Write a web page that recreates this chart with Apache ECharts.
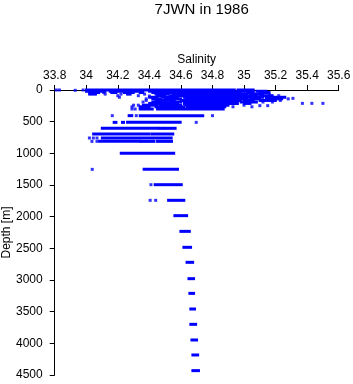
<!DOCTYPE html>
<html>
<head>
<meta charset="utf-8">
<script src="https://cdn.jsdelivr.net/npm/echarts@6/dist/echarts.min.js"></script>
<style>
  html, body { margin: 0; padding: 0; background: #fff; }
  #chart { width: 353px; height: 384px; }
</style>
</head>
<body>
<div id="chart"></div>
<script>
// salinity ticks (top axis) and depth ticks (left axis, downwards)
var salTicks = [33.8, 35.6, 0.2];
var depthTicks = [0, 4500, 500];

// horizontal runs of dense samples: [salinity from, depth, salinity to]
var surfaceRuns = [
  [34.00, 0, 34.94], [34.96, 0, 35.06],
  [34.00, 20, 34.12], [34.15, 20, 34.35], [34.40, 20, 34.93], [34.96, 20, 35.04], [35.08, 20, 35.14],
  [34.02, 40, 34.08], [34.16, 40, 34.19], [34.24, 40, 34.30], [34.34, 40, 34.36], [34.42, 40, 34.56],
  [34.58, 40, 34.98], [35.02, 40, 35.06], [35.10, 40, 35.16],
  [34.02, 65, 34.06], [34.26, 65, 34.28], [34.44, 65, 34.52], [34.55, 65, 35.02], [35.04, 65, 35.12],
  [34.45, 90, 34.50], [34.53, 90, 35.08], [35.10, 90, 35.18],
  [34.40, 115, 34.45], [34.48, 115, 34.58], [34.62, 115, 35.12], [35.14, 115, 35.26],
  [34.42, 140, 34.47], [34.50, 140, 34.60], [34.63, 140, 35.02], [35.04, 140, 35.10], [35.14, 140, 35.24],
  [34.44, 165, 34.56], [34.60, 165, 34.98], [35.00, 165, 35.06], [35.10, 165, 35.20],
  [34.42, 190, 34.50], [34.54, 190, 34.60], [34.62, 190, 34.95], [34.98, 190, 35.08],
  [34.40, 212, 34.58], [34.62, 212, 34.96], [35.00, 212, 35.04],
  [34.36, 240, 34.45], [34.47, 240, 34.60], [34.63, 240, 34.90],
  [34.34, 265, 34.40], [34.44, 265, 34.62], [34.64, 265, 34.88],
  [34.34, 300, 34.42], [34.45, 300, 34.87]
];

var deepRuns = [
  [34.27, 405, 34.29], [34.34, 405, 34.74],
  [34.175, 511, 34.19], [34.228, 511, 34.238], [34.26, 511, 34.597],
  [34.10, 605, 34.455], [34.463, 605, 34.484], [34.495, 605, 34.565],
  [34.045, 695, 34.40], [34.415, 695, 34.55],
  [34.10, 758, 34.54],
  [34.083, 811, 34.34], [34.347, 811, 34.431], [34.45, 811, 34.542],
  [34.22, 1000, 34.556],
  [34.365, 1253, 34.58],
  [34.435, 1495, 34.604],
  [34.52, 1742, 34.62],
  [34.56, 1984, 34.638],
  [34.598, 2232, 34.655],
  [34.617, 2484, 34.663],
  [34.637, 2721, 34.676],
  [34.649, 2979, 34.682],
  [34.655, 3211, 34.682],
  [34.661, 3458, 34.688],
  [34.661, 3700, 34.695],
  [34.668, 3947, 34.701],
  [34.674, 4184, 34.708],
  [34.674, 4431, 34.713]
];

// isolated samples: [salinity, depth]
var singlePoints = [
  [33.81, 0], [33.83, 0], [33.93, 5], [33.98, 0],
  [34.11, 40], [34.12, 65], [34.22, 65], [34.37, 65], [35.16, 70],
  [34.20, 90], [34.33, 90], [34.40, 95], [35.22, 90],
  [34.21, 115], [35.31, 132], [34.38, 140], [35.28, 140],
  [34.38, 165], [35.23, 165], [34.36, 190], [35.12, 190], [35.18, 190],
  [35.37, 211], [35.43, 211], [35.50, 211],
  [34.30, 240], [34.33, 240], [35.00, 240], [35.10, 247], [35.15, 247],
  [34.29, 265], [34.93, 265], [35.05, 265],
  [34.29, 300], [34.31, 300],
  [34.165, 405], [34.317, 405], [34.80, 405],
  [34.697, 511],
  [34.02, 758], [34.045, 758], [34.068, 758],
  [34.036, 811], [34.068, 811],
  [34.038, 1253],
  [34.41, 1495],
  [34.405, 1742], [34.44, 1742]
];

var blue = '#0000ff';
var font = 'Liberation Sans, Arial, sans-serif';

var chart = echarts.init(document.getElementById('chart'), null, { renderer: 'canvas' });

function drawRun(params, api) {
  var p1 = api.coord([api.value(0), api.value(1)]);
  var p2 = api.coord([api.value(2), api.value(1)]);
  return {
    type: 'rect',
    shape: { x: p1[0] - 1.2, y: p1[1] - 1.5, width: p2[0] - p1[0] + 2.4, height: 3 },
    style: { fill: blue }
  };
}

var option = {
  animation: false,
  backgroundColor: '#ffffff',
  title: {
    text: '7JWN in 1986',
    left: 196.7,
    top: -3,
    textAlign: 'center',
    textStyle: { fontFamily: font, fontSize: 15, fontWeight: 'normal', color: '#000' }
  },
  grid: { left: 54.7, right: 14.3, top: 90, bottom: 9, containLabel: false, outerBoundsMode: 'none' },
  xAxis: {
    type: 'value',
    position: 'top',
    min: salTicks[0],
    max: salTicks[1],
    interval: salTicks[2],
    name: 'Salinity',
    nameLocation: 'middle',
    nameGap: 24,
    nameMoveOverlap: false,
    nameTextStyle: { fontFamily: font, fontSize: 12, color: '#000' },
    axisLine: { onZero: false, lineStyle: { color: '#000', width: 1 } },
    axisTick: { show: true, inside: false, length: 5, lineStyle: { color: '#000' } },
    axisLabel: { fontFamily: font, fontSize: 12, color: '#000', margin: 8 },
    splitLine: { show: false }
  },
  yAxis: {
    type: 'value',
    inverse: true,
    min: depthTicks[0],
    max: depthTicks[1],
    interval: depthTicks[2],
    name: 'Depth [m]',
    nameLocation: 'middle',
    nameRotate: 90,
    nameGap: 42,
    nameMoveOverlap: false,
    nameTextStyle: { fontFamily: font, fontSize: 12, color: '#000' },
    axisLine: { show: true, onZero: false, lineStyle: { color: '#000', width: 1 } },
    axisTick: { show: true, inside: false, length: 5, lineStyle: { color: '#000' } },
    axisLabel: {
      fontFamily: font, fontSize: 12, color: '#000', margin: 12,
      formatter: function (v) { return String(v); }
    },
    splitLine: { show: false }
  },
  series: [
    {
      type: 'custom',
      renderItem: drawRun,
      encode: { x: [0, 2], y: 1 },
      data: surfaceRuns.concat(deepRuns),
      clip: false
    },
    {
      type: 'scatter',
      symbol: 'rect',
      symbolSize: 3,
      itemStyle: { color: blue },
      data: singlePoints
    }
  ]
};

chart.setOption(option);
</script>
</body>
</html>
